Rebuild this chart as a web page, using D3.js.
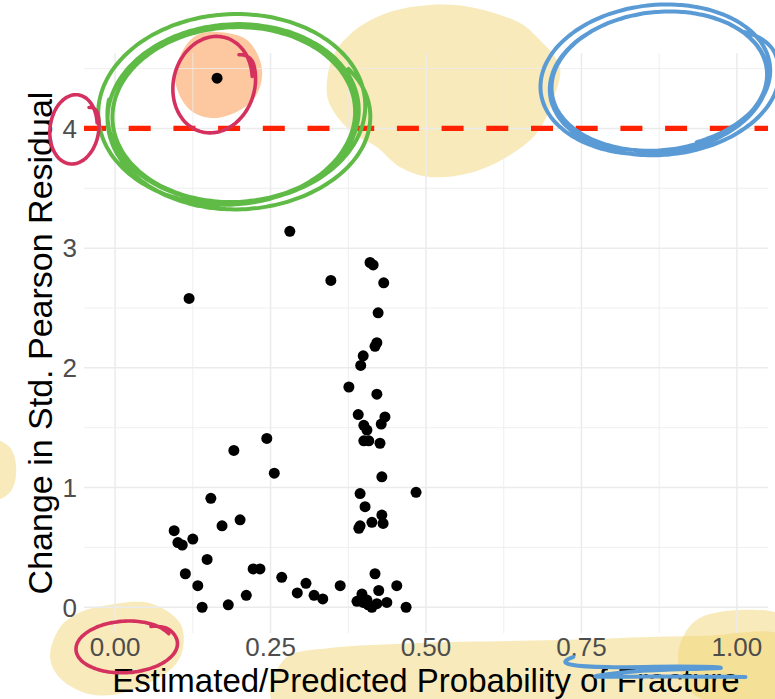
<!DOCTYPE html>
<html>
<head>
<meta charset="utf-8">
<script src="https://cdn.jsdelivr.net/npm/d3@7"></script>
<style>
  body { margin: 0; background: #fff; }
  svg text { font-family: "Liberation Sans", Arial, sans-serif; }
</style>
</head>
<body>
<svg id="chart" width="775" height="699"></svg>
<script>
// fitted probability vs change in standardized Pearson residual
const probFitted = [
  0.164, 0.281, 0.119, 0.347, 0.410, 0.415, 0.432, 0.423, 0.421, 0.418,
  0.399, 0.395, 0.376, 0.421, 0.391, 0.434, 0.428, 0.400, 0.405, 0.400,
  0.408, 0.426, 0.244, 0.191, 0.256, 0.429, 0.484, 0.394, 0.154, 0.402,
  0.429, 0.413, 0.431, 0.392, 0.394, 0.201, 0.172, 0.095, 0.101, 0.108,
  0.125, 0.148, 0.222, 0.233, 0.268, 0.113, 0.133, 0.211, 0.293, 0.140,
  0.182, 0.307, 0.320, 0.334, 0.362, 0.418, 0.453, 0.424, 0.397, 0.389,
  0.399, 0.407, 0.413, 0.421, 0.437, 0.468, 0.405
];
const deltaResid = [
  4.42, 3.14, 2.58, 2.73, 2.88, 2.86, 2.71, 2.46, 2.21, 2.18,
  2.10, 2.02, 1.84, 1.78, 1.61, 1.59, 1.53, 1.52, 1.48, 1.39,
  1.39, 1.37, 1.41, 1.31, 1.12, 1.09, 0.96, 0.95, 0.91, 0.84,
  0.77, 0.71, 0.70, 0.66, 0.68, 0.73, 0.68, 0.64, 0.54, 0.52,
  0.57, 0.40, 0.32, 0.32, 0.25, 0.28, 0.18, 0.10, 0.12, 0.00,
  0.02, 0.20, 0.10, 0.07, 0.18, 0.28, 0.18, 0.14, 0.11, 0.05,
  0.04, 0.02, 0.00, 0.03, 0.04, 0.00, 0.06
];
const xTicks = [0, 0.25, 0.5, 0.75, 1];
const xTickLabels = ['0.00', '0.25', '0.50', '0.75', '1.00'];
const yTicks = [0, 1, 2, 3, 4];
const cutoff = 4;

const panel = { left: 84, right: 768, top: 53, bottom: 633 };

const x = d3.scaleLinear().domain([-0.05, 1.05]).range([panel.left, panel.right]);
const y = d3.scaleLinear().domain([-0.215, 4.63]).range([panel.bottom, panel.top]);

const svg = d3.select('#chart');

const layerBlobs = svg.append('g').attr('class', 'blobs');
const layerGrid = svg.append('g').attr('class', 'grid');
const layerText = svg.append('g').attr('class', 'labels');
const layerPts = svg.append('g').attr('class', 'points');
const layerRef = svg.append('g').attr('class', 'ref');
const layerInk = svg.append('g').attr('class', 'ink');

// grid: minor first, then major
const xMinor = d3.range(-0.125, 1.05, 0.25).filter(v => v > -0.05 && v < 1.05);
const yMinor = d3.range(0.5, 4.63, 1);

layerGrid.selectAll('.gx-minor').data(xMinor).join('line')
  .attr('x1', d => x(d)).attr('x2', d => x(d))
  .attr('y1', panel.top).attr('y2', panel.bottom)
  .attr('stroke', '#ebebeb').attr('stroke-width', 0.8);
layerGrid.selectAll('.gy-minor').data(yMinor).join('line')
  .attr('y1', d => y(d)).attr('y2', d => y(d))
  .attr('x1', panel.left).attr('x2', panel.right)
  .attr('stroke', '#ebebeb').attr('stroke-width', 0.8);
layerGrid.selectAll('.gx').data(xTicks).join('line')
  .attr('x1', d => x(d)).attr('x2', d => x(d))
  .attr('y1', panel.top).attr('y2', panel.bottom)
  .attr('stroke', '#ebebeb').attr('stroke-width', 1.5);
layerGrid.selectAll('.gy').data(yTicks).join('line')
  .attr('y1', d => y(d)).attr('y2', d => y(d))
  .attr('x1', panel.left).attr('x2', panel.right)
  .attr('stroke', '#ebebeb').attr('stroke-width', 1.5);

// tick labels
layerText.selectAll('.xt').data(xTicks).join('text')
  .attr('x', d => x(d)).attr('y', 656)
  .attr('text-anchor', 'middle')
  .attr('font-size', 26).attr('fill', '#4d4d4d')
  .text((d, i) => xTickLabels[i]);
layerText.selectAll('.yt').data(yTicks).join('text')
  .attr('x', 77).attr('y', d => y(d))
  .attr('dy', '0.36em')
  .attr('text-anchor', 'end')
  .attr('font-size', 26).attr('fill', '#4d4d4d')
  .text(d => d);

// axis titles
layerText.append('text')
  .attr('x', (panel.left + panel.right) / 2).attr('y', 691.5)
  .attr('text-anchor', 'middle').attr('font-size', 33).attr('fill', '#000')
  .text('Estimated/Predicted Probability of Fracture');
layerText.append('text')
  .attr('transform', `translate(52,${(panel.top + panel.bottom) / 2}) rotate(-90)`)
  .attr('text-anchor', 'middle').attr('font-size', 34).attr('fill', '#000')
  .text('Change in Std. Pearson Residual');

// points
layerPts.selectAll('circle').data(probFitted.map((p, i) => [p, deltaResid[i]])).join('circle')
  .attr('cx', d => x(d[0])).attr('cy', d => y(d[1]))
  .attr('r', 5.5).attr('fill', '#000');

// dashed cutoff line
layerRef.append('line')
  .attr('x1', panel.left).attr('x2', panel.right)
  .attr('y1', y(cutoff)).attr('y2', y(cutoff))
  .attr('stroke', '#ff2200').attr('stroke-width', 5.3)
  .attr('stroke-dasharray', '22 22.7');

// ---- hand-drawn highlights (anchored in data units, shape offsets in px) ----
const smoothClosed = d3.line().curve(d3.curveCatmullRomClosed);
const smoothOpen = d3.line().curve(d3.curveBasis);

const fillBlobs = [
  { at: [0.527, 4.305], fill: '#f2d675', op: 0.5,
    pts: [[-116,1],[-110,-35],[-90,-60],[-56,-79],[-13,-87],[27,-85],[77,-69],[94,-55],[117,-25],[110,8],[94,41],[64,65],[27,81],[-13,85],[-43,75],[-66,55],[-90,41],[-110,18]] },
  { at: [0.1656, 4.455], fill: '#fb9a50', op: 0.55,
    pts: [[-1,-42],[29,-34],[44,-4],[35,26],[-1,44],[-28,36],[-43,6],[-35,-24],[-21,-39]] },
  { at: [-0.204, 1.147], fill: '#f2d675', op: 0.5,
    pts: [[0,-32],[22,-22],[28,0],[22,22],[0,32],[-22,22],[-28,0],[-22,-22]] },
  { at: [0, -0.342], fill: '#f2d675', op: 0.5,
    pts: [[-8,-43],[35,-45],[65,-25],[68,-1],[58,19],[10,44],[-25,46],[-55,30],[-65,9],[-55,-21],[-35,-36]] },
  { at: [0.5, -0.398], fill: '#f2d675', op: 0.5,
    pts: [[-148,13],[-136,0],[-96,-7],[-6,-12],[134,-15],[274,-19],[360,-17],[360,50],[-151,50],[-155,30]] },
  { at: [1.005, -0.398], fill: '#f2d675', op: 0.5,
    pts: [[0,-45],[45,-38],[66,0],[45,40],[0,50],[-48,38],[-62,0],[-45,-34]] }
];

layerBlobs.selectAll('path').data(fillBlobs).join('path')
  .attr('d', b => {
    const cx = x(b.at[0]), cy = y(b.at[1]);
    return smoothClosed(b.pts.map(p => [cx + p[0], cy + p[1]]));
  })
  .attr('fill', b => b.fill).attr('fill-opacity', b => b.op);

// multi-turn loop that finishes at angle `end`, curling inward at the very end
function loopPts(rx, ry, o) {
  const n = Math.ceil(o.turns * 140);
  const rot = (o.rot || 0) * Math.PI / 180;
  const tailFrac = o.tailFrac || 0.06;
  return d3.range(n + 1).map(i => {
    const f = i / n;
    const t = o.end + (1 - f) * o.turns * 2 * Math.PI;
    const k = Math.max(0, (f - (1 - tailFrac)) / tailFrac);
    const s = 1 + o.wob * Math.sin(0.8 * t + 1.3) + o.drift * Math.sin(f * Math.PI * 2.6)
      - o.inward * k * k;
    const px = rx * s * Math.cos(t), py = ry * s * Math.sin(t);
    return [px * Math.cos(rot) - py * Math.sin(rot), px * Math.sin(rot) + py * Math.cos(rot)];
  });
}

const loops = [
  { at: [0.193, 4.138], rx: 127, ry: 91, color: '#5fba46', w: 4,
    opt: { turns: 3.6, end: -0.42, rot: -3, wob: 0.04, drift: 0.055, inward: 0.09, tailFrac: 0.05 } },
  { at: [0.876, 4.405], rx: 111, ry: 71, color: '#5b9bd5', w: 4,
    opt: { turns: 3.3, end: -0.6, rot: -6, wob: 0.035, drift: 0.045, inward: 0.1, tailFrac: 0.02 } },
  { at: [0.156, 4.372], rx: 40, ry: 49, color: '#d4315f', w: 3.6,
    opt: { turns: 1.1, end: -1.0, rot: 15, wob: 0.05, drift: 0.03, inward: 0.2, tailFrac: 0.06 } },
  { at: [-0.0675, 3.996], rx: 24, ry: 35, color: '#d4315f', w: 3.6,
    opt: { turns: 1.1, end: -0.9, rot: 8, wob: 0.05, drift: 0.03, inward: 0.2, tailFrac: 0.06 } },
  { at: [0.0145, -0.33], rx: 50, ry: 26, color: '#d4315f', w: 3.6,
    opt: { turns: 1.08, end: -0.9, rot: -4, wob: 0.05, drift: 0.03, inward: 0.15, tailFrac: 0.06 } }
];

layerInk.selectAll('.loop').data(loops).join('path')
  .attr('class', 'loop')
  .attr('d', l => {
    const cx = x(l.at[0]), cy = y(l.at[1]);
    return smoothOpen(loopPts(l.rx, l.ry, l.opt).map(p => [cx + p[0], cy + p[1]]));
  })
  .attr('fill', 'none').attr('stroke', l => l.color).attr('stroke-width', l => l.w)
  .attr('stroke-linecap', 'round').attr('stroke-linejoin', 'round');

// blue strike-through under the right end of the x axis
const strike = { at: [0.75, -0.507],
  pts: [[-8,-11],[-18,-7],[-15,-3],[19,0],[99,-2],[157,0],[109,1],[49,3],[-6,10],[59,8],[164,9]] };
layerInk.append('path')
  .attr('d', smoothOpen(strike.pts.map(p => [x(strike.at[0]) + p[0], y(strike.at[1]) + p[1]])))
  .attr('fill', 'none').attr('stroke', '#5b9bd5').attr('stroke-width', 4)
  .attr('stroke-linecap', 'round').attr('stroke-linejoin', 'round');
</script>
</body>
</html>
